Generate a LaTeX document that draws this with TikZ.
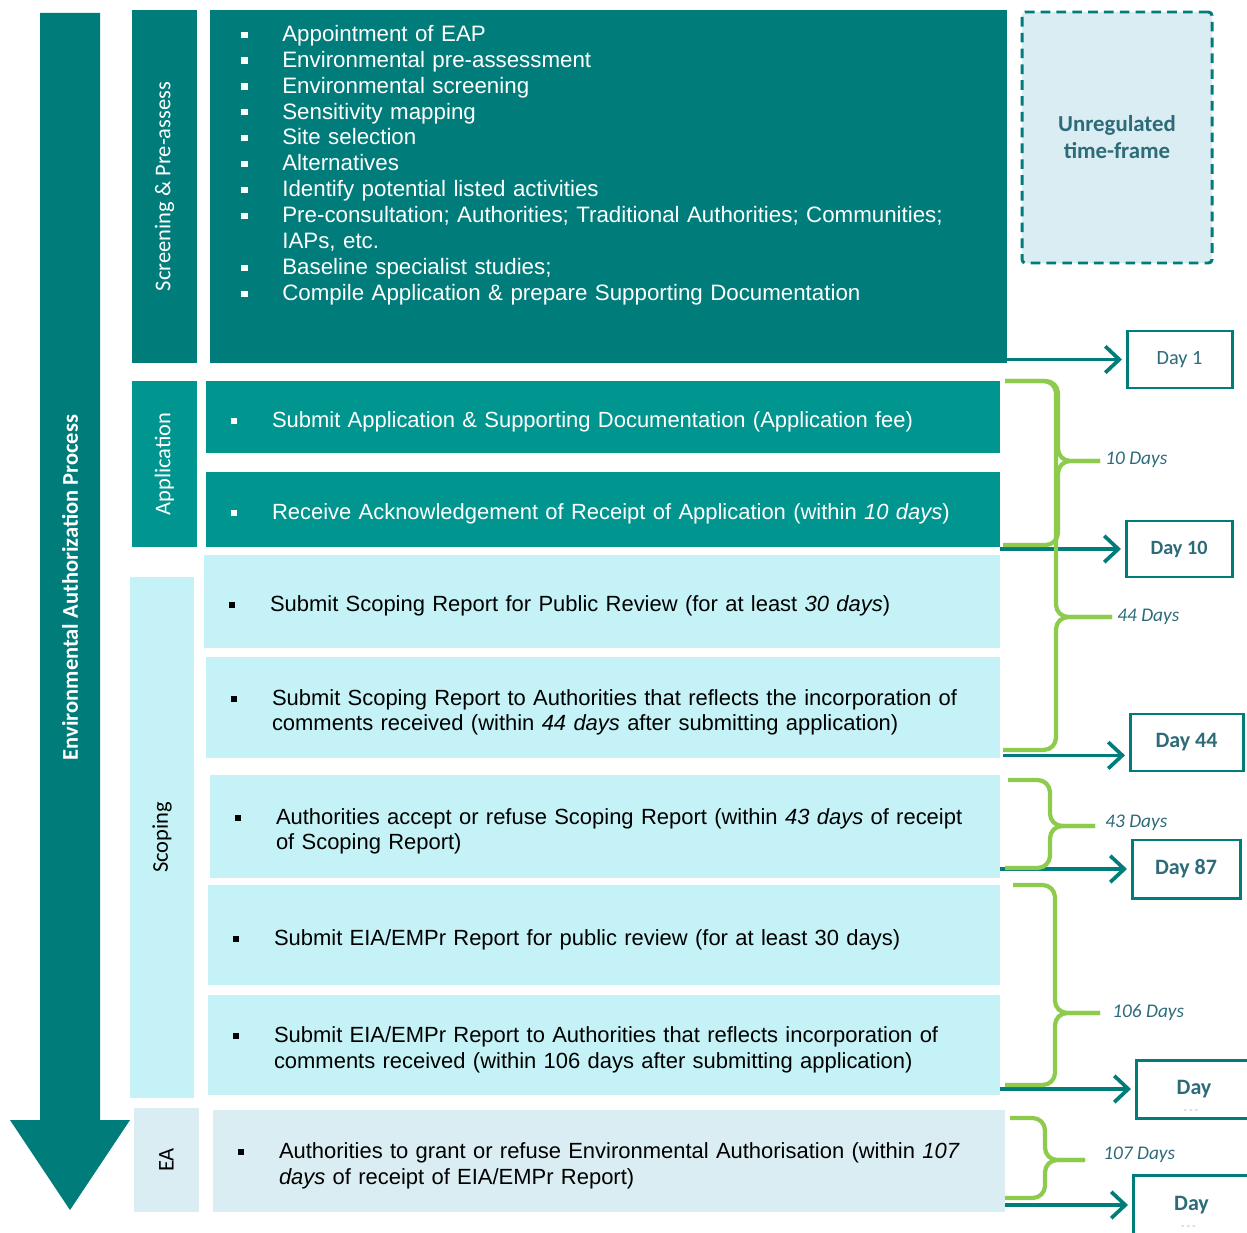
\documentclass[tikz,border=0pt]{standalone}
\usepackage{fontspec}
\setmainfont{Liberation Sans}
\newfontfamily\carl{Carlito}
\usetikzlibrary{arrows.meta}
\usetikzlibrary{calc}
\usepackage{xcolor}

\definecolor{darkteal}{HTML}{007D7A}
\definecolor{appteal}{HTML}{00958F}
\definecolor{scopecyan}{HTML}{C4F2F6}
\definecolor{eablue}{HTML}{DAEDF2}
\definecolor{bracegreen}{HTML}{8CCB4C}
\definecolor{daytext}{HTML}{2D6B79}

\newcommand{\sq}{\rule[0.3ex]{3.5pt}{3.5pt}}
\newcommand{\bitem}[1]{\par\hangindent=0.82cm\hangafter=1\noindent\makebox[0.82cm][l]{\sq}#1\par}
\newcommand{\dayhid}{\rlap{\raisebox{-11pt}[0pt][0pt]{\hspace{4pt}\fontsize{6}{6}\selectfont\color{gray!45}- - -}}Day}

\begin{document}
\begin{tikzpicture}
      \useasboundingbox (0,0) rectangle (24.94,-24.66);

      \tikzstyle{stage}=[rotate=90,inner sep=0pt,font=\carl\fontsize{12.8}{15}\selectfont]
      \tikzstyle{flowbox}=[inner xsep=0.5cm,inner ysep=0pt,align=left,font=\fontsize{12.5}{14.4}\selectfont]
      \tikzstyle{daybox}=[draw=darkteal,line width=1.7pt,fill=white,text=daytext,font=\carl\fontsize{11.5}{13}\selectfont]
      \tikzstyle{flow}=[-{Straight Barb[length=8pt,width=15pt]},line width=2.1pt,draw=darkteal,shorten >=2pt]
      \tikzstyle{curly}=[draw=bracegreen,line width=2.4pt,rounded corners=7pt]
      \tikzstyle{span}=[anchor=west,inner sep=0pt,text=daytext,font=\carl\itshape\fontsize{11}{13}\selectfont]

      % process arrow
      \fill[darkteal] (0.8,-0.26) -- (2.0,-0.26) -- (2.0,-22.4) -- (2.6,-22.4)
            -- (1.4,-24.2) -- (0.2,-22.4) -- (0.8,-22.4) -- cycle;
      \node[rotate=90,text=white,font=\carl\bfseries\fontsize{12.8}{15}\selectfont] (proc) at (1.4,-11.75) {Environmental Authorization Process};

      % stage labels
      \node[stage,fill=darkteal,text=white,minimum width=7.06cm,minimum height=1.3cm]   (scrlab) at (3.29,-3.73)  {Screening \& Pre-assess};
      \node[stage,fill=appteal,text=white,minimum width=3.32cm,minimum height=1.3cm]    (applab) at (3.29,-9.28)  {Application};
      \node[stage,fill=scopecyan,text=black,minimum width=10.42cm,minimum height=1.28cm] (scolab) at (3.24,-16.75) {Scoping};
      \node[stage,fill=eablue,text=black,minimum width=2.08cm,minimum height=1.3cm]     (ealab)  at (3.33,-23.2)  {EA};

      % steps
      \node[fill=darkteal,minimum width=15.94cm,minimum height=7.06cm] (scr) at (12.17,-3.73) {};
      \node[anchor=north west,inner sep=0pt,text width=15cm,align=left,text=white,font=\fontsize{12.7}{14.75}\selectfont] (scrtext) at (4.82,-0.3) {%
            \bitem{Appointment of EAP}
            \bitem{Environmental pre-assessment}
            \bitem{Environmental screening}
            \bitem{Sensitivity mapping}
            \bitem{Site selection}
            \bitem{Alternatives}
            \bitem{Identify potential listed activities}
            \bitem{Pre-consultation; Authorities; Traditional Authorities; Communities;\newline IAPs, etc.}
            \bitem{Baseline specialist studies;}
            \bitem{Compile Application \& prepare Supporting Documentation}};

      \node[flowbox,fill=appteal,text=white,text width=14.88cm,minimum height=1.44cm] (app1) at (12.06,-8.34)
            {\bitem{Submit Application \& Supporting Documentation (Application fee)}};
      \node[flowbox,fill=appteal,text=white,text width=14.88cm,minimum height=1.5cm] (app2) at (12.06,-10.19)
            {\bitem{Receive Acknowledgement of Receipt of Application (within \textit{10 days})}};
      \node[flowbox,fill=scopecyan,text width=14.92cm,minimum height=1.86cm] (sc1) at (12.04,-12.03)
            {\bitem{Submit Scoping Report for Public Review (for at least \textit{30 days})}};
      \node[flowbox,fill=scopecyan,text width=14.88cm,minimum height=2.02cm] (sc2) at (12.06,-14.15)
            {\bitem{Submit Scoping Report to Authorities that reflects the incorporation of\newline comments received (within \textit{44 days} after submitting application)}};
      \node[flowbox,fill=scopecyan,text width=14.8cm,minimum height=2.06cm] (sc3) at (12.1,-16.53)
            {\bitem{Authorities accept or refuse Scoping Report (within \textit{43 days} of receipt\newline of Scoping Report)}};
      \node[flowbox,fill=scopecyan,text width=14.84cm,minimum height=2.0cm] (sc4) at (12.08,-18.7)
            {\bitem{Submit EIA/EMPr Report for public review (for at least 30 days)}};
      \node[flowbox,fill=scopecyan,text width=14.84cm,minimum height=2.0cm] (sc5) at (12.08,-20.9)
            {\bitem{Submit EIA/EMPr Report to Authorities that reflects incorporation of\newline comments received (within 106 days after submitting application)}};
      \node[flowbox,fill=eablue,text width=14.84cm,minimum height=2.04cm] (ea) at (12.18,-23.22)
            {\bitem{Authorities to grant or refuse Environmental Authorisation (within \textit{107}\newline \textit{days} of receipt of EIA/EMPr Report)}};

      % time frame and days
      \node[draw=darkteal,dash pattern=on 5.5pt off 3.5pt,line width=1.7pt,rounded corners=2pt,fill=eablue,
            minimum width=3.8cm,minimum height=5.02cm,align=center,text=daytext,
            font=\carl\bfseries\fontsize{13}{15.3}\selectfont] (unreg) at (22.34,-2.75) {Unregulated\\time-frame};

      \node[daybox,minimum width=2.1cm,minimum height=1.14cm]  (day1)  at (23.59,-7.19)  {Day 1};
      \node[daybox,minimum width=2.12cm,minimum height=1.12cm,font=\carl\bfseries\fontsize{11.5}{13}\selectfont] (day10) at (23.58,-10.98) {Day 10};
      \node[daybox,minimum width=2.26cm,minimum height=1.14cm,font=\carl\bfseries\fontsize{12.5}{14}\selectfont] (day44) at (23.73,-14.85) {Day 44};
      \node[daybox,minimum width=2.16cm,minimum height=1.16cm,font=\carl\bfseries\fontsize{12.5}{14}\selectfont] (day87) at (23.72,-17.38) {Day 87};
      \node[daybox,minimum width=2.32cm,minimum height=1.16cm,font=\carl\bfseries\fontsize{12.5}{14}\selectfont] (day106) at (23.88,-21.78) {\dayhid};
      \node[daybox,minimum width=2.34cm,minimum height=1.2cm,font=\carl\bfseries\fontsize{12.5}{14}\selectfont] (day107) at (23.83,-24.1) {\dayhid};

      \coordinate (a44) at ($(sc2.south east)+(0.06,0.06)$);
      \draw[flow] (day1.west -| scr.east)   -- (day1.west);
      \draw[flow] (day10.west -| app2.east) -- (day10.west);
      \draw[flow] (a44) -- (a44 -| day44.west);
      \draw[flow] (day87.west -| sc3.east)  -- (day87.west);
      \draw[flow] (day106.west -| sc5.east) -- (day106.west);
      \draw[flow] (day107.west -| ea.east)  -- (day107.west);

      % braces
      \draw[curly] (20.10,-7.62) -| (21.16,-9.22) -- (22.0,-9.22);
      \draw[curly] (20.06,-10.90) -| (21.16,-9.22) -- (22.0,-9.22);
      \draw[curly] (20.10,-7.62) -| (21.12,-12.34) -- (22.24,-12.34);
      \draw[curly] (20.06,-15.0) -| (21.12,-12.34) -- (22.24,-12.34);
      \draw[curly] (20.16,-15.6) -| (21.0,-16.52) -- (21.9,-16.52);
      \draw[curly] (20.10,-17.36) -| (21.0,-16.52) -- (21.9,-16.52);
      \draw[curly] (20.26,-17.7) -| (21.1,-20.26) -- (22.0,-20.26);
      \draw[curly] (20.10,-21.7) -| (21.1,-20.26) -- (22.0,-20.26);
      \draw[curly] (20.2,-22.36) -| (20.9,-23.2) -- (21.7,-23.2);
      \draw[curly] (20.10,-23.96) -| (20.9,-23.2) -- (21.7,-23.2);

      \node[span] (d10)  at (22.1,-9.2)   {10 Days};
      \node[span] (d44)  at (22.34,-12.34) {44 Days};
      \node[span] (d43)  at (22.1,-16.46) {43 Days};
      \node[span] (d106) at (22.24,-20.26) {106 Days};
      \node[span] (d107) at (22.06,-23.1) {107 Days};
\end{tikzpicture}
\end{document}
